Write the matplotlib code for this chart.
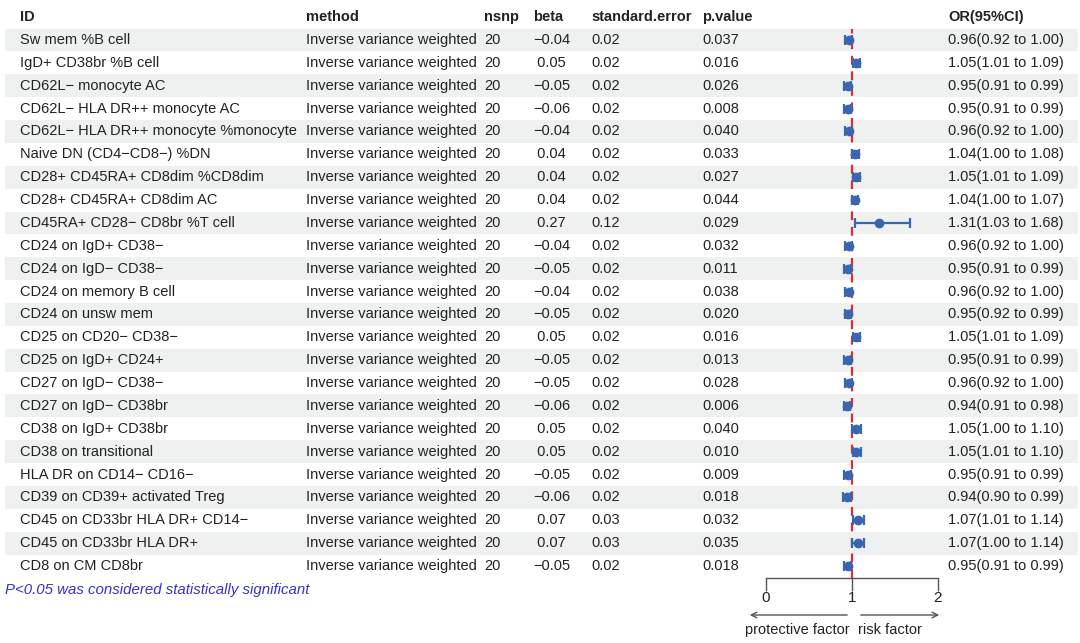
import matplotlib
matplotlib.use('Agg')
import matplotlib.pyplot as plt

plt.rcParams['font.family'] = ['Liberation Sans', 'DejaVu Sans']

ids = ['Sw mem %B cell', 'IgD+ CD38br %B cell', 'CD62L\u2212 monocyte AC',
       'CD62L\u2212 HLA DR++ monocyte AC', 'CD62L\u2212 HLA DR++ monocyte %monocyte',
       'Naive DN (CD4\u2212CD8\u2212) %DN', 'CD28+ CD45RA+ CD8dim %CD8dim',
       'CD28+ CD45RA+ CD8dim AC', 'CD45RA+ CD28\u2212 CD8br %T cell',
       'CD24 on IgD+ CD38\u2212', 'CD24 on IgD\u2212 CD38\u2212', 'CD24 on memory B cell',
       'CD24 on unsw mem', 'CD25 on CD20\u2212 CD38\u2212', 'CD25 on IgD+ CD24+',
       'CD27 on IgD\u2212 CD38\u2212', 'CD27 on IgD\u2212 CD38br', 'CD38 on IgD+ CD38br',
       'CD38 on transitional', 'HLA DR on CD14\u2212 CD16\u2212',
       'CD39 on CD39+ activated Treg', 'CD45 on CD33br HLA DR+ CD14\u2212',
       'CD45 on CD33br HLA DR+', 'CD8 on CM CD8br']
method = 'Inverse variance weighted'
nsnp = [20] * 24
beta = [-0.04, 0.05, -0.05, -0.06, -0.04, 0.04, 0.04, 0.04, 0.27, -0.04, -0.05, -0.04,
        -0.05, 0.05, -0.05, -0.05, -0.06, 0.05, 0.05, -0.05, -0.06, 0.07, 0.07, -0.05]
se = [0.02] * 8 + [0.12] + [0.02] * 12 + [0.03, 0.03, 0.02]
pval = ['0.037', '0.016', '0.026', '0.008', '0.040', '0.033', '0.027', '0.044', '0.029',
        '0.032', '0.011', '0.038', '0.020', '0.016', '0.013', '0.028', '0.006', '0.040',
        '0.010', '0.009', '0.018', '0.032', '0.035', '0.018']
OR = [0.96, 1.05, 0.95, 0.95, 0.96, 1.04, 1.05, 1.04, 1.31, 0.96, 0.95, 0.96,
      0.95, 1.05, 0.95, 0.96, 0.94, 1.05, 1.05, 0.95, 0.94, 1.07, 1.07, 0.95]
lo = [0.92, 1.01, 0.91, 0.91, 0.92, 1.00, 1.01, 1.00, 1.03, 0.92, 0.91, 0.92,
      0.92, 1.01, 0.91, 0.92, 0.91, 1.00, 1.01, 0.91, 0.90, 1.01, 1.00, 0.91]
hi = [1.00, 1.09, 0.99, 0.99, 1.00, 1.08, 1.09, 1.07, 1.68, 1.00, 0.99, 1.00,
      0.99, 1.09, 0.99, 1.00, 0.98, 1.10, 1.10, 0.99, 0.99, 1.14, 1.14, 0.99]

W, H = 1080, 643
row0, rowh = 40, 22.87   # pixel y of first row, row spacing
n = len(ids)

def py2row(p):
    return (p - row0) / rowh

fig = plt.figure(figsize=(W / 100, H / 100), dpi=100)

# table axes: x in pixels, y in row units
tab = fig.add_axes([0, 0, 1, 1])
tab.set_xlim(0, W)
tab.set_ylim(py2row(H), py2row(0))
tab.axis('off')

for i in range(0, n, 2):
    tab.axhspan(i - 0.5, i + 0.5, xmin=5 / W, xmax=1078 / W, color='#eff1f1', lw=0, zorder=0)

txt = dict(fontsize=10.5, color='#222222', va='center', ha='left')
cols = [('ID', 20), ('method', 306), ('nsnp', 484), ('beta', 533),
        ('standard.error', 591), ('p.value', 702), ('OR(95%CI)', 948)]
for name, x in cols:
    tab.text(x, -1, name, fontweight='bold', **txt)

def fmt_beta(b):
    s = f'{b:.2f}'
    return s.replace('-', '\u2212') if b < 0 else ' ' + s

for i in range(n):
    tab.text(20, i, ids[i], **txt)
    tab.text(306, i, method, **txt)
    tab.text(484, i, str(nsnp[i]), **txt)
    tab.text(533, i, fmt_beta(beta[i]), **txt)
    tab.text(591, i, f'{se[i]:.2f}', **txt)
    tab.text(702, i, pval[i], **txt)
    tab.text(948, i, f'{OR[i]:.2f}({lo[i]:.2f} to {hi[i]:.2f})', **txt)

tab.text(5, py2row(590), 'P<0.05 was considered statistically significant',
         fontsize=10.8, style='italic', color='#3333cc', va='center', ha='left')

# forest axes
x0, x2 = 766, 938
ytop, ybot = row0 - rowh / 2, 578
fa = fig.add_axes([x0 / W, 1 - ybot / H, (x2 - x0) / W, (ybot - ytop) / H])
fa.patch.set_alpha(0)
fa.set_xlim(0, 2)
fa.set_ylim(py2row(ybot), -0.5)
for s in ['top', 'left', 'right']:
    fa.spines[s].set_visible(False)
fa.spines['bottom'].set_color('#555555')
fa.spines['bottom'].set_linewidth(1)
fa.set_yticks([])
fa.set_xticks([0, 1, 2])
fa.tick_params(axis='x', length=9, width=1, color='#555555', labelsize=11,
               labelcolor='#222222', pad=0)

fa.axvline(1, color='#e22b30', lw=1.6, ls=(0, (4, 3)), zorder=1)
rows = list(range(n))
fa.errorbar(OR, rows, xerr=[[o - l for o, l in zip(OR, lo)], [h - o for o, h in zip(OR, hi)]],
            fmt='o', color='#3a66b0', ms=6, elinewidth=1.6, capsize=3.5, capthick=1.6, zorder=3)

# direction arrows below the axis
ya = py2row(615)
tab.annotate('', xy=(747, ya), xytext=(850, ya),
             arrowprops=dict(arrowstyle='->', color='#555555', lw=1))
tab.annotate('', xy=(942, ya), xytext=(858, ya),
             arrowprops=dict(arrowstyle='->', color='#555555', lw=1))
tab.text(797, py2row(630), 'protective factor', fontsize=10.5, color='#222222',
         ha='center', va='center')
tab.text(890, py2row(630), 'risk factor', fontsize=10.5, color='#222222',
         ha='center', va='center')

fig.savefig('out.png', dpi=100)
